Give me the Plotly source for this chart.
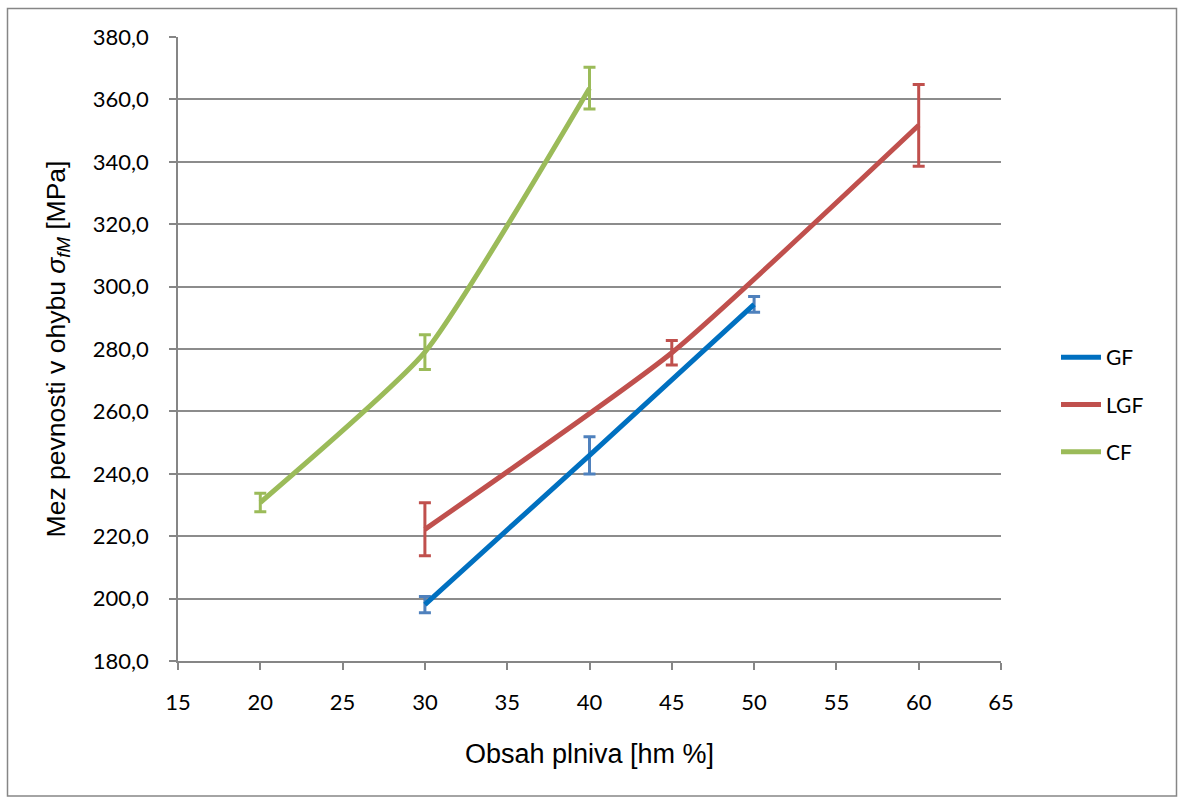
import plotly.graph_objects as go

# Data
gf_x = [30, 40, 50]
gf_y = [198.1, 245.9, 294.3]
gf_err = [2.6, 6.0, 2.5]

lgf_x = [30, 45, 60]
lgf_y = [222.2, 278.8, 351.7]
lgf_err = [8.5, 3.9, 13.1]

cf_x = [20, 30, 40]
cf_y = [230.8, 279.0, 363.6]
cf_err = [3.0, 5.6, 6.7]

series = [
    ("GF", gf_x, gf_y, gf_err, "#0070C0", "#4F81BD"),
    ("LGF", lgf_x, lgf_y, lgf_err, "#C0504D", "#C0504D"),
    ("CF", cf_x, cf_y, cf_err, "#9BBB59", "#9BBB59"),
]

fig = go.Figure()
for name, xs, ys, es, col, ecol in series:
    fig.add_trace(go.Scatter(
        x=xs, y=ys, name=name, mode="lines", legendgroup=name,
        line=dict(color=col, width=5, shape="spline", smoothing=0.5),
        error_y=dict(type="data", array=es, visible=True, color=ecol,
                     thickness=3, width=6),
    ))

W, H = 1180, 798
L, R, T, B = 178, 179, 37, 137
pw, ph = W - L - R, H - T - B

def px_x(p):
    return (p - L) / pw

def px_y(p):
    return (H - B - p) / ph

tick_font = dict(family="Lato, Carlito, 'Liberation Sans', sans-serif", size=22, color="#000000")

fig.update_layout(
    width=W, height=H,
    margin=dict(l=L, r=R, t=T, b=B),
    paper_bgcolor="white", plot_bgcolor="white",
    separators=", ",
    showlegend=True,
    legend=dict(x=px_x(1056), y=px_y(337), xanchor="left", yanchor="top",
                font=dict(family="Lato, Carlito, 'Liberation Sans', sans-serif", size=21, color="#000"),
                tracegroupgap=17, itemwidth=40, bgcolor="rgba(0,0,0,0)"),
    xaxis=dict(
        range=[15, 65], tickmode="array", tickvals=list(range(15, 70, 5)),
        showgrid=False, zeroline=False,
        showline=True, linecolor="#868686", linewidth=1.5,
        ticks="outside", ticklen=7, tickcolor="#868686", tickwidth=1.5,
        ticklabelstandoff=14,
        tickfont=tick_font,
        title=dict(text="Obsah plniva [hm %]",
                   font=dict(family="'Liberation Sans', Arial, sans-serif", size=27, color="#000"),
                   standoff=30),
    ),
    yaxis=dict(
        range=[180, 380], tickmode="array", tickvals=list(range(180, 400, 20)),
        tickformat=".1f",
        showgrid=True, gridcolor="#8C8C8C", gridwidth=1.5,
        zeroline=False,
        showline=True, linecolor="#868686", linewidth=1.5,
        ticks="outside", ticklen=7, tickcolor="#868686", tickwidth=1.5,
        ticklabelstandoff=16,
        tickfont=tick_font,
        title=dict(text="Mez pevnosti v ohybu <i>σ</i><sub><i>fM</i></sub> [MPa]",
                   font=dict(family="'Liberation Sans', Arial, sans-serif", size=26.5, color="#000"),
                   standoff=20),
    ),
    shapes=[dict(type="rect", xref="paper", yref="paper",
                 x0=px_x(7.5), x1=px_x(1176.5), y0=px_y(796), y1=px_y(8.5),
                 line=dict(color="#868686", width=1.5), fillcolor="rgba(0,0,0,0)",
                 layer="below")],
)

fig.write_html("out.html")
